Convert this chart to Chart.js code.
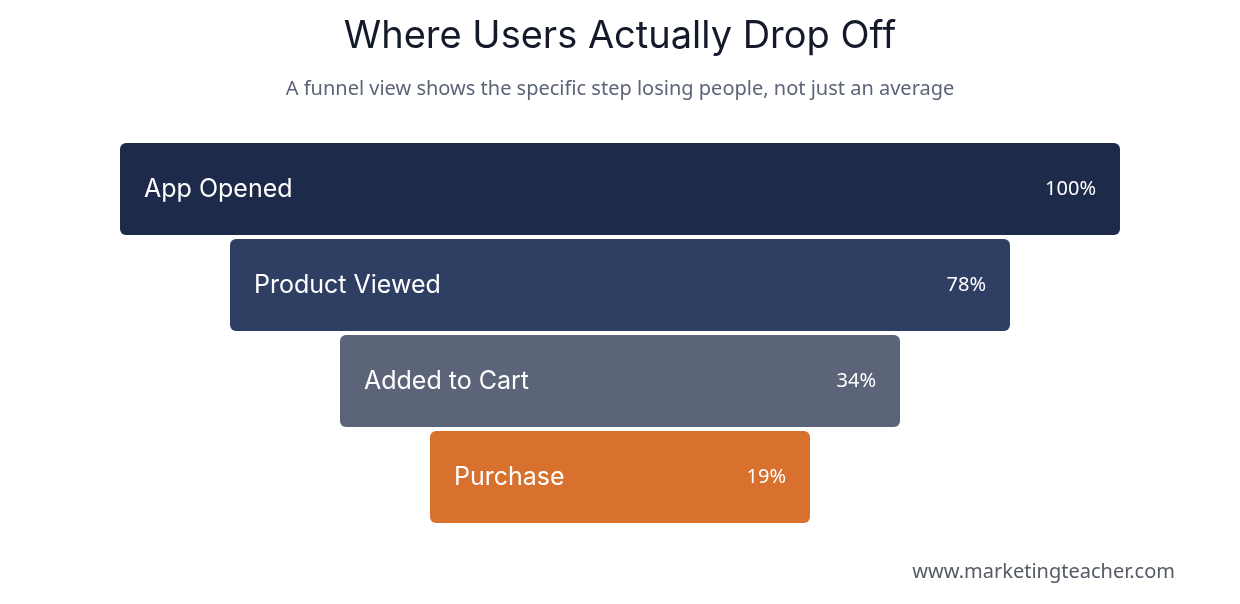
<!DOCTYPE html>
<html>
<head>
<meta charset="utf-8">
<script src="https://cdn.jsdelivr.net/npm/chart.js@4"></script>
<style>
  html, body { margin: 0; padding: 0; background: #fff; }
  #wrap { width: 1240px; height: 604px; }
</style>
</head>
<body>
<div id="wrap"><canvas id="myChart" width="1240" height="604"></canvas></div>
<script>
const steps = ['App Opened', 'Product Viewed', 'Added to Cart', 'Purchase'];
const percents = [100, 78, 34, 19];
// funnel display width of each step (stylised, not proportional)
const funnelWidths = [100, 78, 56, 38];
const colors = ['#1e2a4a', '#2f3e63', '#5c6479', '#d9712e'];

const textPlugin = {
    id: 'funnelText',
    afterDatasetsDraw(chart) {
        const {ctx} = chart;
        const meta = chart.getDatasetMeta(0);
        ctx.save();
        meta.data.forEach((bar, i) => {
            const left = Math.min(bar.x, bar.base);
            const right = Math.max(bar.x, bar.base);
            ctx.fillStyle = '#ffffff';
            ctx.textBaseline = 'middle';
            ctx.font = '25px Inter, "Noto Sans", sans-serif';
            ctx.textAlign = 'left';
            ctx.fillText(steps[i], left + 24, bar.y);
            ctx.font = '20px "Noto Sans", sans-serif';
            ctx.textAlign = 'right';
            ctx.fillText(percents[i] + '%', right - 24, bar.y);
        });
        ctx.textAlign = 'center';
        ctx.textBaseline = 'middle';
        ctx.fillStyle = '#151a2b';
        ctx.font = '38px Inter, "Noto Sans", sans-serif';
        ctx.fillText('Where Users Actually Drop Off', 620, 37);
        ctx.fillStyle = '#5b6477';
        ctx.font = '20px "Noto Sans", sans-serif';
        ctx.fillText('A funnel view shows the specific step losing people, not just an average', 620, 89);
        ctx.textAlign = 'right';
        ctx.fillStyle = '#555a66';
        ctx.fillText('www.marketingteacher.com', 1175, 572);
        ctx.restore();
    }
};

new Chart(document.getElementById('myChart'), {
    type: 'bar',
    data: {
        labels: steps,
        datasets: [{
            data: funnelWidths.map(w => [-w / 2, w / 2]),
            backgroundColor: colors,
            borderRadius: 6,
            borderSkipped: false,
            barPercentage: 92 / 96,
            categoryPercentage: 1
        }]
    },
    options: {
        indexAxis: 'y',
        responsive: false,
        animation: false,
        layout: { padding: { top: 141, bottom: 79, left: 0, right: 0 } },
        scales: {
            x: { display: false, min: -62, max: 62 },
            y: { display: false }
        },
        plugins: {
            legend: { display: false },
            tooltip: { enabled: false }
        }
    },
    plugins: [textPlugin]
});
</script>
</body>
</html>
